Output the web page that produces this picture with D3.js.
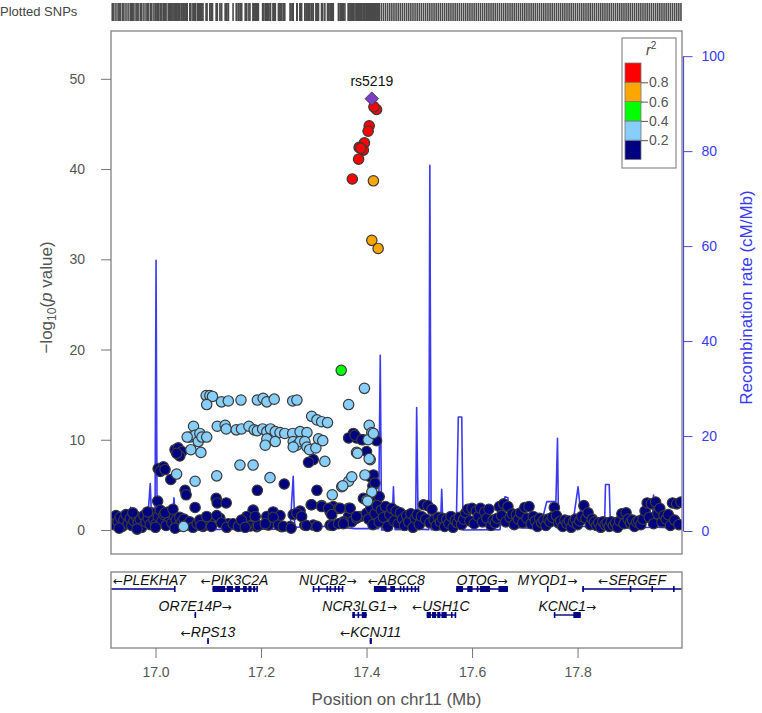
<!DOCTYPE html>
<html>
<head>
<meta charset="utf-8">
<script src="https://cdn.jsdelivr.net/npm/d3@7"></script>
<style>
  body { margin: 0; background: #fff; }
  svg { font-family: "Liberation Sans", Arial, sans-serif; }
</style>
</head>
<body>
<div id="chart"></div>
<script>
// ---- data ----
const leadSnp = { name: "rs5219", pos: 17.410, logp: 47.8 };

const ldRed = [[17.419,46.6],[17.414,46.9],[17.405,44.8],[17.403,44.2],[17.396,42.9],[17.386,42.4],
  [17.394,42.1],[17.389,42.3],[17.385,41.1],[17.373,38.9]];
const ldOrange = [[17.413,38.7],[17.410,32.1],[17.422,31.2]];
const ldGreen = [[17.352,17.7]];
const ldLightBlue = [
  [17.096,14.9],[17.103,14.9],[17.108,14.8],[17.097,13.9],[17.125,14.2],[17.138,14.3],[17.162,14.4],
  [17.193,14.4],[17.204,14.6],[17.211,14.2],[17.225,14.5],[17.260,14.3],[17.268,14.4],[17.396,15.7],[17.366,13.9],
  [17.072,11.5],[17.117,11.5],[17.132,11.6],[17.134,11.2],[17.153,11.1],[17.163,11.2],[17.177,11.5],[17.187,11.1],
  [17.193,11.0],[17.203,11.2],[17.211,10.9],[17.218,11.2],[17.227,10.9],[17.236,10.8],[17.245,10.7],[17.260,10.7],
  [17.274,10.9],[17.287,10.8],[17.296,12.6],[17.306,12.2],[17.315,12.0],[17.326,11.9],
  [17.211,10.1],[17.208,9.4],[17.227,9.8],[17.261,9.8],[17.268,9.4],[17.274,9.8],[17.261,9.2],[17.283,9.8],
  [17.287,9.2],[17.292,8.9],[17.304,9.1],[17.309,10.1],[17.317,9.9],[17.321,7.6],
  [17.065,10.3],[17.075,10.5],[17.081,9.8],[17.084,10.7],[17.088,10.3],[17.097,10.3],[17.060,10.3],[17.067,8.9],[17.086,8.6],
  [17.160,7.2],[17.185,7.2],[17.040,6.2],[17.116,6.0],[17.217,5.8],[17.075,5.4],[17.053,0.4],
  [17.335,3.9],[17.353,4.8],[17.366,5.4],[17.372,5.9],[17.355,4.9],[17.381,8.6],[17.383,8.5],
  [17.405,11.6],[17.410,10.8],[17.403,10.0],[17.413,10.7],[17.407,7.8],[17.405,7.9],[17.397,6.1],
  [17.410,4.2],[17.400,3.3],[17.402,3.2]
];
const ldNavy = [
  // scattered low-LD points
  [17.037,8.9],[17.043,9.1],[17.050,8.7],[17.046,8.2],[17.040,8.5],
  [17.005,6.8],[17.015,7.0],[17.009,6.5],[17.018,6.7],[17.029,5.6],
  [17.056,4.4],[17.058,3.9],[17.004,3.2],[17.075,2.5],
  [17.115,3.5],[17.117,3.0],[17.134,3.0],[17.193,4.4],[17.244,5.1],[17.306,4.4],[17.295,2.8],[17.315,2.7],
  [17.299,7.8],[17.290,7.5],[17.366,2.4],
  [17.375,10.7],[17.381,10.2],[17.366,10.2],[17.394,10.0],[17.419,9.9],[17.378,10.5],[17.391,10.0],[17.400,8.7],
  [17.407,5.9],[17.412,4.9],[17.419,3.7],[17.394,3.5],[17.413,6.1],[17.416,5.2],[17.424,3.7],
  [17.366,1.5],[17.337,2.6],[17.331,2.0],[17.347,2.4],[17.350,2.4],[17.388,1.5],[17.359,0.8],[17.372,0.9],
  [17.185,2.2],[17.173,1.5],[17.211,1.5],[17.223,2.0],[17.236,1.6],[17.261,1.7],[17.274,2.1],
  // left baseline
  [16.918,1.2],[16.921,0.6],[16.925,1.6],[16.929,0.9],[16.933,1.4],[16.937,0.4],[16.940,1.1],[16.944,1.7],
  [16.948,0.7],[16.952,1.3],[16.955,0.5],[16.959,1.0],[16.963,1.5],[16.967,0.8],[16.971,1.2],[16.974,0.3],
  [16.978,1.6],[16.982,0.9],[16.986,1.3],[16.990,0.6],[16.993,1.9],[16.997,1.1],[17.001,0.7],[17.005,1.5],
  [17.009,2.2],[17.012,1.0],[17.016,1.7],[17.020,0.5],[17.024,2.0],[17.027,1.3],[17.031,0.8],[17.035,1.6],
  [17.039,1.1],[17.043,0.4],[17.046,1.4],[17.050,0.9],[17.054,1.2],[17.060,0.6],[17.065,0.9],[17.071,0.3],
  [17.079,0.7],[17.090,0.4],
  [16.957,1.9],[16.985,2.0],[17.018,1.9],[17.033,2.3],[16.931,0.2],[16.965,0.1],[17.000,0.3],[17.037,0.2],
  // middle baseline
  [17.084,1.1],[17.103,0.9],[17.122,1.3],[17.138,0.7],[17.154,0.55],[17.179,0.44],[17.192,0.37],[17.214,0.55],
  [17.239,0.37],[17.255,0.37],[17.283,0.55],[17.299,0.55],[17.331,0.55],[17.356,0.9],[17.381,1.3],
  [17.086,0.5],[17.097,1.5],[17.106,0.4],[17.116,1.6],[17.125,0.8],[17.135,0.3],[17.147,0.7],[17.157,0.4],
  [17.163,1.1],[17.170,0.3],[17.195,0.5],
  [17.189,1.5],[17.208,0.7],[17.223,1.4],[17.233,0.55],[17.242,0.4],[17.257,0.2],[17.268,1.85],[17.277,1.5],
  [17.286,0.5],[17.296,2.8],[17.306,0.4],[17.315,2.6],[17.328,2.4],[17.334,1.7],[17.336,0.5],[17.347,0.7],
  [17.356,0.7],[17.369,2.4],[17.381,1.5],[17.400,1.85],[17.416,1.1],
  // right baseline
  [17.404,1.2],[17.408,2.4],[17.412,0.6],[17.416,1.8],[17.420,2.7],[17.424,0.9],[17.428,2.2],[17.432,1.4],
  [17.436,2.6],[17.440,0.4],[17.444,1.7],[17.448,2.4],[17.452,1.0],[17.456,2.1],[17.460,0.7],[17.464,1.9],
  [17.468,1.2],[17.472,0.5],[17.476,1.6],[17.480,0.9],[17.484,1.8],[17.488,0.3],[17.492,1.3],[17.496,1.7],
  [17.500,0.6],[17.504,1.5],[17.508,2.8],[17.512,1.2],[17.516,2.7],[17.520,0.8],[17.524,2.3],[17.528,1.1],
  [17.532,0.5],[17.536,1.4],[17.540,0.9],[17.544,1.3],[17.548,0.4],[17.552,1.2],[17.556,0.7],[17.560,1.5],
  [17.564,0.3],[17.568,1.1],[17.572,0.8],[17.576,1.4],[17.580,0.6],[17.584,1.2],[17.588,1.9],[17.592,2.3],
  [17.596,1.0],[17.600,2.4],[17.604,0.7],[17.608,2.1],[17.612,1.5],[17.616,2.4],[17.620,0.9],[17.624,2.0],
  [17.628,1.3],[17.632,2.3],[17.636,0.5],[17.640,1.1],[17.644,0.8],[17.648,1.3],[17.652,2.6],[17.656,1.6],
  [17.660,2.9],[17.664,0.9],[17.668,2.6],[17.672,1.4],[17.676,1.8],[17.680,0.6],[17.684,1.7],[17.688,1.2],
  [17.692,1.9],[17.696,0.8],[17.700,2.5],[17.704,1.3],[17.708,2.6],[17.712,0.7],[17.716,1.5],[17.720,1.0],
  [17.724,0.4],[17.728,1.3],[17.732,0.8],[17.736,1.1],[17.740,0.5],[17.744,1.2],[17.748,0.9],[17.752,1.4],
  [17.756,2.5],[17.760,1.6],[17.764,0.8],[17.768,1.0],[17.772,0.4],[17.776,1.1],[17.780,0.7],[17.784,1.0],
  [17.788,0.3],[17.792,0.9],[17.796,1.2],[17.800,0.6],[17.804,1.0],[17.808,1.5],[17.812,2.7],[17.816,1.3],
  [17.820,1.9],[17.824,0.6],[17.828,1.2],[17.832,0.9],[17.836,0.5],[17.840,0.8],[17.844,0.3],[17.848,0.9],
  [17.852,0.6],[17.856,0.8],[17.860,0.4],[17.864,0.9],[17.868,0.5],[17.872,0.8],[17.876,0.3],[17.880,1.0],
  [17.884,1.8],[17.888,0.7],[17.892,1.9],[17.896,1.2],[17.900,0.8],[17.904,1.1],[17.908,0.4],[17.912,0.9],
  [17.916,1.0],[17.920,0.6],[17.924,1.2],[17.928,2.1],[17.932,3.0],[17.936,1.4],[17.940,2.9],[17.944,0.7],
  [17.948,3.1],[17.952,1.8],[17.956,2.4],[17.960,0.9],[17.964,1.6],[17.968,1.2],[17.972,1.7],[17.976,0.5],
  [17.980,3.0],[17.984,1.1],[17.988,2.9],[17.992,0.6],[17.996,3.1]
];

// r2 value representing each LD bin
const ldBins = [
  { r2: 0.1, snps: ldNavy },
  { r2: 0.3, snps: ldLightBlue },
  { r2: 0.5, snps: ldGreen },
  { r2: 0.7, snps: ldOrange },
  { r2: 0.9, snps: ldRed }
];
const ldBreaks = [0.2, 0.4, 0.6, 0.8];
const ldColors = ["#000080", "#87CEFA", "#00FF00", "#FFA500", "#FF0000"];

// recombination rate (cM/Mb) along the region
const recomb = [
  [16.916,0.6],[16.942,0.8],[16.953,5],[16.957,0.6],[16.984,0.7],[16.990,10],[16.993,1],[16.999,1],
  [17.001,57],[17.003,1.5],[17.031,1],[17.035,7],[17.039,0.8],[17.046,0.6],[17.048,3.6],[17.052,0.3],
  [17.255,0.4],[17.261,11.5],[17.264,0.8],[17.327,1],[17.378,0.5],[17.4227,0.5],[17.426,37],[17.4285,0.2],
  [17.448,0.3],[17.451,9.3],[17.454,0.3],[17.493,0.4],[17.495,26],[17.498,0.4],[17.518,0.3],[17.520,77],
  [17.5225,0.3],[17.540,0.3],[17.5425,8.8],[17.545,0.3],[17.570,0.3],[17.574,24],[17.5805,24],[17.583,0.2],
  [17.653,0.3],[17.659,6],[17.6625,7.2],[17.668,7],[17.672,0.8],[17.729,0.5],[17.7416,6.2],[17.759,6.2],
  [17.762,19.5],[17.764,0.5],[17.790,0.8],[17.801,9.3],[17.8085,1],[17.851,0.5],[17.853,9.8],[17.860,9.8],
  [17.8625,0.5],[17.941,0.8],[17.944,7.6],[17.947,0.8],[17.998,0.6]
];

// genes: start/end in Mb, strand, track row, exon blocks
const genes = [
  { name: "PLEKHA7", start: 16.797, end: 17.037, strand: "-", row: 0, exons: [[17.035,17.037]] },
  { name: "PIK3C2A", start: 17.108, end: 17.192, strand: "-", row: 0,
    exons: [[17.108,17.132],[17.135,17.147],[17.151,17.160],[17.166,17.173],[17.176,17.182],[17.185,17.189],[17.191,17.193]] },
  { name: "NUCB2", start: 17.298, end: 17.355, strand: "+", row: 0,
    exons: [[17.298,17.300],[17.308,17.310],[17.324,17.326],[17.330,17.332],[17.339,17.341],[17.346,17.348],[17.353,17.355]] },
  { name: "ABCC8", start: 17.414, end: 17.499, strand: "-", row: 0,
    exons: [[17.414,17.438],[17.445,17.454],[17.463,17.465],[17.469,17.471],[17.476,17.478],[17.484,17.486],[17.491,17.493],[17.497,17.499]] },
  { name: "OTOG", start: 17.570, end: 17.668, strand: "+", row: 0,
    exons: [[17.570,17.583],[17.591,17.601],[17.609,17.612],[17.615,17.634],[17.650,17.668]] },
  { name: "MYOD1", start: 17.742, end: 17.744, strand: "+", row: 0, exons: [[17.742,17.744]] },
  { name: "SERGEF", start: 17.809, end: 18.030, strand: "-", row: 0,
    exons: [[17.809,17.811],[17.899,17.901],[17.940,17.942],[17.981,17.983]] },
  { name: "OR7E14P", start: 17.074, end: 17.076, strand: "+", row: 1, exons: [[17.074,17.076]] },
  { name: "NCR3LG1", start: 17.373, end: 17.401, strand: "+", row: 1,
    exons: [[17.373,17.378],[17.383,17.385],[17.391,17.400]] },
  { name: "USH1C", start: 17.514, end: 17.568, strand: "-", row: 1,
    exons: [[17.514,17.522],[17.524,17.532],[17.534,17.540],[17.542,17.552],[17.560,17.562],[17.567,17.569]] },
  { name: "KCNC1", start: 17.755, end: 17.806, strand: "+", row: 1, exons: [[17.755,17.757],[17.792,17.806]] },
  { name: "RPS13", start: 17.098, end: 17.101, strand: "-", row: 2, exons: [[17.098,17.101]] },
  { name: "KCNJ11", start: 17.406, end: 17.410, strand: "-", row: 2, exons: [[17.406,17.410]] }
];

const xDomain = [16.9156, 17.998];
const xTicks = [17.0, 17.2, 17.4, 17.6, 17.8];
const yTicks = [0, 10, 20, 30, 40, 50];
const recTicks = [0, 20, 40, 60, 80, 100];

// ---- layout ----
const W = 762, H = 713;
const plot = { left: 111, right: 682, top: 31, bottom: 554 };
const genePanel = { top: 572, bottom: 648 };
const greyText = "#555";
const recColor = "#3a3af2";

const svg = d3.select("#chart").append("svg")
  .attr("width", W).attr("height", H);

const x = d3.scaleLinear().domain(xDomain).range([plot.left, plot.right]);
const y = d3.scaleLinear().domain([-2.66, 55.3]).range([plot.bottom, plot.top]);
const yRec = d3.scaleLinear().domain([-4.84, 105.3]).range([plot.bottom, plot.top]);
const ldColor = d3.scaleThreshold().domain(ldBreaks).range(ldColors);

svg.append("defs").append("clipPath").attr("id", "plotClip")
  .append("rect")
  .attr("x", plot.left).attr("y", plot.top)
  .attr("width", plot.right - plot.left).attr("height", plot.bottom - plot.top);

// all SNPs with their r2
const allSnps = [];
ldBins.forEach(b => b.snps.forEach(d => allSnps.push({ pos: d[0], logp: d[1], r2: b.r2 })));

// ---- plotted SNPs strip ----
svg.append("text")
  .attr("x", 0).attr("y", 16)
  .attr("font-size", 13).attr("fill", "#444")
  .text("Plotted SNPs");

svg.append("g").selectAll("line")
  .data(allSnps.concat([{ pos: leadSnp.pos }]))
  .enter().append("line")
  .attr("x1", d => x(d.pos)).attr("x2", d => x(d.pos))
  .attr("y1", 3).attr("y2", 21)
  .attr("stroke", "#4a4a4a").attr("stroke-width", 1.6);

// ---- main panel ----
const panel = svg.append("g");

const inner = panel.append("g").attr("clip-path", "url(#plotClip)");

const recLine = d3.line().x(d => x(d[0])).y(d => yRec(d[1]));
inner.append("path")
  .datum(recomb)
  .attr("d", recLine)
  .attr("fill", "none")
  .attr("stroke", recColor)
  .attr("stroke-width", 1.6)
  .attr("stroke-linejoin", "round");

inner.append("g").selectAll("circle")
  .data(allSnps)
  .enter().append("circle")
  .attr("cx", d => x(d.pos))
  .attr("cy", d => y(d.logp))
  .attr("r", 5.2)
  .attr("fill", d => ldColor(d.r2))
  .attr("stroke", "#3a3a3a")
  .attr("stroke-width", 1.2);

// lead SNP
inner.append("path")
  .attr("d", d3.symbol().type(d3.symbolSquare).size(92)())
  .attr("transform", `translate(${x(leadSnp.pos)},${y(leadSnp.logp)}) rotate(45)`)
  .attr("fill", "#7b3fc0")
  .attr("stroke", "#333")
  .attr("stroke-width", 0.8);

svg.append("text")
  .attr("x", x(leadSnp.pos)).attr("y", y(leadSnp.logp) - 13)
  .attr("text-anchor", "middle")
  .attr("font-size", 14).attr("fill", "#111")
  .text(leadSnp.name);

// frame
panel.append("rect")
  .attr("x", plot.left).attr("y", plot.top)
  .attr("width", plot.right - plot.left).attr("height", plot.bottom - plot.top)
  .attr("fill", "none").attr("stroke", "#8a8a8a").attr("stroke-width", 1.4);

// left axis
const yAxis = d3.axisLeft(y).tickValues(yTicks).tickSize(10).tickPadding(16);
const yAxisG = svg.append("g")
  .attr("transform", `translate(${plot.left},0)`)
  .call(yAxis);
yAxisG.select(".domain").remove();
yAxisG.selectAll("line").attr("stroke", "#777");
yAxisG.selectAll("text").attr("font-size", 14).attr("fill", greyText)
  .attr("font-family", "Liberation Sans, Arial, sans-serif");

const yTitle = svg.append("text")
  .attr("transform", `translate(52,${(plot.top + plot.bottom) / 2 + 5}) rotate(-90)`)
  .attr("text-anchor", "middle")
  .attr("font-size", 17).attr("fill", greyText);
yTitle.append("tspan").text("\u2212log");
yTitle.append("tspan").attr("font-size", 12).attr("dy", 4).text("10");
yTitle.append("tspan").attr("dy", -4).text("(");
yTitle.append("tspan").attr("font-style", "italic").text("p");
yTitle.append("tspan").text(" value)");

// right axis (recombination)
const recAxis = d3.axisRight(yRec).tickValues(recTicks).tickSize(9).tickPadding(9);
const recAxisG = svg.append("g")
  .attr("transform", `translate(${plot.right + 1.5},0)`)
  .call(recAxis);
recAxisG.select(".domain").remove();
recAxisG.append("line")
  .attr("y1", yRec(0)).attr("y2", yRec(100))
  .attr("stroke", "#4a4ad8").attr("stroke-width", 1.2);
recAxisG.selectAll(".tick line").attr("stroke", "#4a4ad8");
recAxisG.selectAll("text").attr("font-size", 14).attr("fill", recColor)
  .attr("font-family", "Liberation Sans, Arial, sans-serif");

svg.append("text")
  .attr("transform", `translate(752,${(plot.top + plot.bottom) / 2 + 5}) rotate(-90)`)
  .attr("text-anchor", "middle")
  .attr("font-size", 17).attr("fill", recColor)
  .text("Recombination rate (cM/Mb)");

// legend
const legend = { x: 622, y: 38, w: 54, h: 130, barX: 625, barW: 16 };
const legY = d3.scaleLinear().domain([0, 1]).range([159.5, 63]);
const lg = svg.append("g");
lg.append("rect")
  .attr("x", legend.x).attr("y", legend.y).attr("width", legend.w).attr("height", legend.h)
  .attr("fill", "#fff").attr("stroke", "#8a8a8a").attr("stroke-width", 1.2);
const legTitle = lg.append("text")
  .attr("x", 646).attr("y", 55)
  .attr("font-size", 14).attr("fill", "#444");
legTitle.append("tspan").attr("font-style", "italic").text("r");
legTitle.append("tspan").attr("font-size", 10).attr("dy", -6).text("2");

const binEdges = [0].concat(ldBreaks, [1]);
lg.selectAll(".bin")
  .data(ldColors)
  .enter().append("rect")
  .attr("class", "bin")
  .attr("x", legend.barX).attr("width", legend.barW)
  .attr("y", (d, i) => legY(binEdges[i + 1]))
  .attr("height", (d, i) => legY(binEdges[i]) - legY(binEdges[i + 1]))
  .attr("fill", d => d)
  .attr("stroke", "#777").attr("stroke-width", 0.8);

const legAxis = d3.axisRight(legY).tickValues(ldBreaks).tickSize(7).tickPadding(1)
  .tickFormat(d3.format(".1f"));
const legAxisG = lg.append("g")
  .attr("transform", `translate(${legend.barX + legend.barW},0)`)
  .call(legAxis);
legAxisG.select(".domain").remove();
legAxisG.selectAll("line").attr("stroke", "#555");
legAxisG.selectAll("text").attr("font-size", 14).attr("fill", greyText)
  .attr("font-family", "Liberation Sans, Arial, sans-serif");

// ---- gene panel ----
svg.append("defs").append("clipPath").attr("id", "geneClip")
  .append("rect")
  .attr("x", plot.left).attr("y", genePanel.top)
  .attr("width", plot.right - plot.left).attr("height", genePanel.bottom - genePanel.top);

const rowY = d3.scalePoint().domain([0, 1, 2]).range([589, 641]);
const geneColor = "#000080";

const geneG = svg.append("g").attr("clip-path", "url(#geneClip)");
const gene = geneG.selectAll(".gene").data(genes).enter().append("g").attr("class", "gene");

gene.append("line")
  .attr("x1", d => x(d.start)).attr("x2", d => x(d.end))
  .attr("y1", d => rowY(d.row)).attr("y2", d => rowY(d.row))
  .attr("stroke", geneColor).attr("stroke-width", 1.4);

gene.selectAll(".exon")
  .data(d => d.exons.map(e => ({ s: e[0], e: e[1], row: d.row })))
  .enter().append("rect")
  .attr("x", d => x(d.s))
  .attr("width", d => Math.max(1.6, x(d.e) - x(d.s)))
  .attr("y", d => rowY(d.row) - 3)
  .attr("height", 6)
  .attr("fill", geneColor);

// gene labels with strand arrows, centred on the visible part of the gene
const labelG = svg.append("g");
genes.forEach(g => {
  const t = labelG.append("text")
    .attr("y", rowY(g.row) - 4)
    .attr("text-anchor", "middle")
    .attr("font-size", 14).attr("fill", "#111");
  const arrow = sym => t.append("tspan")
    .attr("font-family", "DejaVu Sans, sans-serif").attr("font-size", 12)
    .text(sym);
  if (g.strand === "-") arrow("\u2190");
  t.append("tspan").attr("font-style", "italic").text(g.name);
  if (g.strand === "+") arrow("\u2192");
  const w = t.node().getComputedTextLength();
  let cx = x((Math.max(g.start, xDomain[0]) + Math.min(g.end, xDomain[1])) / 2);
  cx = Math.max(plot.left + w / 2 + 2, Math.min(plot.right - w / 2 - 5, cx));
  t.attr("x", cx);
});

svg.append("rect")
  .attr("x", plot.left).attr("y", genePanel.top)
  .attr("width", plot.right - plot.left).attr("height", genePanel.bottom - genePanel.top)
  .attr("fill", "none").attr("stroke", "#8a8a8a").attr("stroke-width", 1.4);

const xAxis = d3.axisBottom(x).tickValues(xTicks).tickSize(10).tickPadding(9)
  .tickFormat(d3.format(".1f"));
const xAxisG = svg.append("g")
  .attr("transform", `translate(0,${genePanel.bottom})`)
  .call(xAxis);
xAxisG.select(".domain").remove();
xAxisG.selectAll("line").attr("stroke", "#777");
xAxisG.selectAll("text").attr("font-size", 14).attr("fill", greyText)
  .attr("font-family", "Liberation Sans, Arial, sans-serif");

svg.append("text")
  .attr("x", (plot.left + plot.right) / 2).attr("y", 705)
  .attr("text-anchor", "middle")
  .attr("font-size", 17).attr("fill", greyText)
  .text("Position on chr11 (Mb)");
</script>
</body>
</html>
